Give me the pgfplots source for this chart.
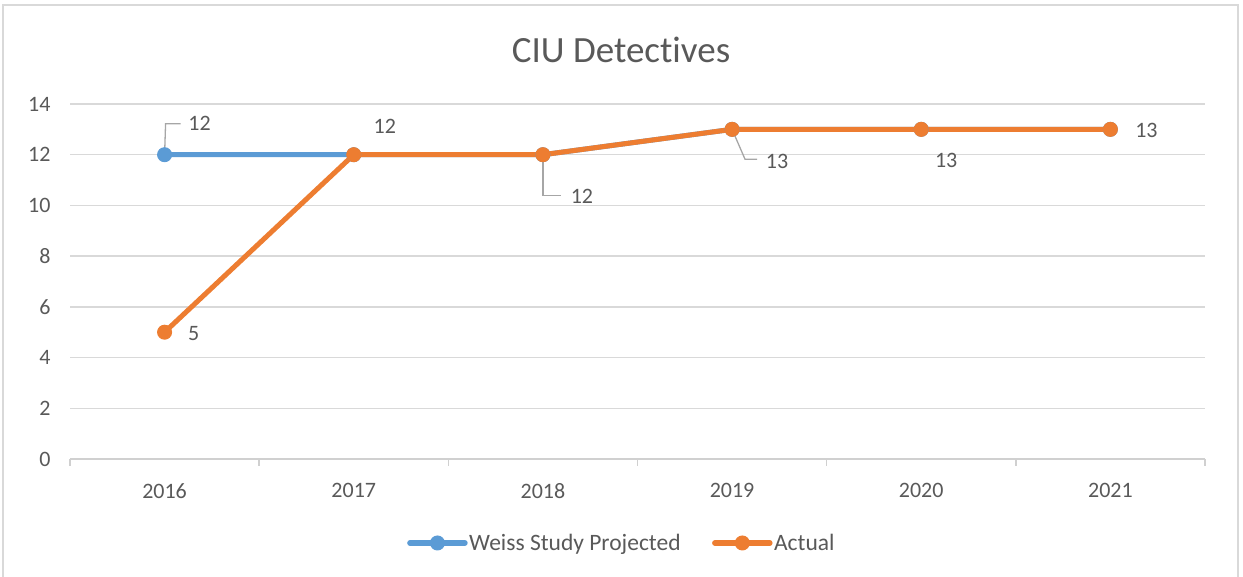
\documentclass[border=0pt]{standalone}
\usepackage{fontspec}
\setmainfont{Carlito}[Ligatures={NoCommon,NoContextual}]
\usepackage{pgfplots}
\pgfplotsset{compat=1.18}
\definecolor{cblue}{HTML}{5B9BD5}
\definecolor{corange}{HTML}{ED7D31}
\definecolor{ctext}{HTML}{595959}
\definecolor{cgrid}{HTML}{D9D9D9}
\definecolor{caxis}{HTML}{D0D0D0}
\definecolor{clead}{HTML}{A6A6A6}
\begin{document}
\begin{tikzpicture}[x=1pt,y=1pt]
\useasboundingbox (0,0) rectangle (1243,577);
\draw[cgrid, line width=1.5pt] (3,-5) rectangle (1238,572);
\node[text=ctext, font=\fontsize{37}{42}\selectfont] at (621,527) {CIU Detectives};
\begin{axis}[
  at={(70pt,118pt)}, anchor=south west,
  width=1135pt, height=355pt, scale only axis,
  xmin=-0.5, xmax=5.5, ymin=0, ymax=14,
  xtick={0,1,2,3,4,5},
  xticklabels={2016,2017,2018,2019,2020,2021},
  minor xtick={-0.5,0.5,1.5,2.5,3.5,4.5,5.5},
  ytick={0,2,4,6,8,10,12,14},
  axis lines*=left,
  y axis line style={draw=none},
  x axis line style={draw=caxis, line width=1.5pt},
  ytick style={draw=none},
  xtick style={draw=none},
  minor x tick style={draw=caxis, line width=1.5pt},
  tick align=outside,
  minor tick length=7pt,
  major tick length=0pt,
  ymajorgrids,
  grid style={cgrid, line width=1.5pt},
  tick label style={text=ctext, font=\fontsize{22}{26}\selectfont},
  /pgf/number format/assume math mode=true,
  xticklabel style={yshift=-21pt},
  yticklabel style={xshift=-16pt},
  legend columns=2,
  legend style={at={(0.486,-0.2366)}, anchor=center, draw=none, fill=none,
    font=\fontsize{23.5}{27}\selectfont, text=ctext,
    nodes={inner sep=1.5pt},
    /tikz/every even column/.append style={column sep=30pt}},
  legend cell align=left,
  legend image code/.code={%
    \draw[#1, mark=none, line cap=round, line width=5.5pt] (0pt,0pt) -- (55pt,0pt);
    \draw[#1, only marks] plot coordinates {(27.5pt,0pt)};},
  clip=false,
]
\addplot[cblue, line width=5pt, mark=*, mark size=7pt, mark options={line width=1pt, fill=cblue}]
  coordinates {(0,12) (1,12) (2,12) (3,13) (4,13) (5,13)};
\addlegendentry{Weiss Study Projected}
\addplot[corange, line width=5pt, mark=*, mark size=7pt, mark options={line width=1pt, fill=corange}]
  coordinates {(0,5) (1,12) (2,12) (3,13) (4,13) (5,13)};
\addlegendentry{Actual}
% leader lines
\draw[clead, line width=1.3pt] (axis cs:0,12) -- ++(1pt,31pt) -- ++(15pt,0pt);
\draw[clead, line width=1.3pt] (axis cs:2,12) -- ++(0pt,-41pt) -- ++(18pt,0pt);
\draw[clead, line width=1.3pt] (axis cs:3,13) -- ++(13pt,-30pt) -- ++(12pt,0pt);
% data labels
\begin{scope}[every node/.style={text=ctext, font=\fontsize{22}{26}\selectfont, inner sep=0pt}]
\node at ([shift={(35pt,31pt)}]axis cs:0,12) {12};
\node at ([shift={(29pt,-1pt)}]axis cs:0,5) {5};
\node at ([shift={(31pt,28pt)}]axis cs:1,12) {12};
\node at ([shift={(39pt,-42pt)}]axis cs:2,12) {12};
\node at ([shift={(45pt,-32pt)}]axis cs:3,13) {13};
\node at ([shift={(25pt,-31pt)}]axis cs:4,13) {13};
\node at ([shift={(36pt,-1pt)}]axis cs:5,13) {13};
\end{scope}
\end{axis}
\end{tikzpicture}
\end{document}
